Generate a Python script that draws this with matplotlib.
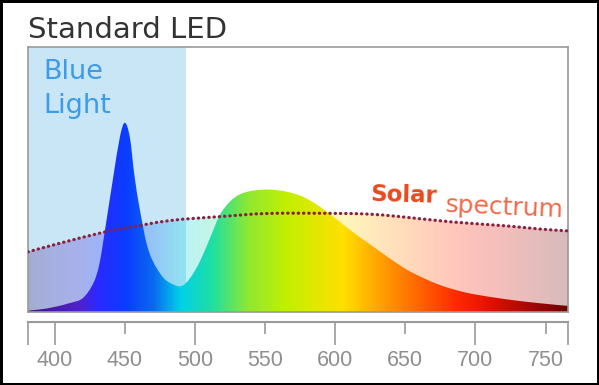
import numpy as np
import matplotlib
matplotlib.use('Agg')
import matplotlib.pyplot as plt
from matplotlib.colors import LinearSegmentedColormap
from matplotlib.path import Path
from matplotlib.patches import PathPatch

# данные спектров (длина волны, нм -> относительная интенсивность)
led_nm = [381, 390, 399, 411, 420, 427.5, 432, 437, 441.8, 446.5, 450, 453.6, 457,
          460.8, 465.5, 470.2, 477.4, 484, 490.5, 496.4, 503.5, 510.7, 517.8, 524.9,
          532, 541.5, 553.4, 565.3, 577, 589, 601, 613, 625, 639, 651, 662.6, 674.5,
          686, 698, 722, 746, 766]
led_val = [0.005, 0.01, 0.018, 0.034, 0.052, 0.108, 0.184, 0.347, 0.51, 0.66, 0.714,
           0.66, 0.51, 0.385, 0.26, 0.19, 0.13, 0.105, 0.098, 0.127, 0.19, 0.278,
           0.366, 0.416, 0.444, 0.458, 0.462, 0.454, 0.435, 0.398, 0.35, 0.3, 0.255,
           0.202, 0.16, 0.129, 0.102, 0.083, 0.068, 0.048, 0.033, 0.023]

solar_nm = [381, 404, 434, 450, 482, 518, 553, 603, 625, 646, 683, 722, 746, 766]
solar_val = [0.227, 0.26, 0.30, 0.316, 0.345, 0.36, 0.372, 0.372, 0.369, 0.36, 0.34,
             0.325, 0.313, 0.306]

blue_band = (381, 494)
x_range = (381, 766)
major_ticks = [400, 500, 600, 700]
minor_ticks = [450, 550, 650, 750]

# цвета спектра по длине волны
spec_nm = [381, 400, 417, 430, 450, 470, 489, 513, 538, 565, 606, 633, 655, 687, 712, 766]
spec_col = ['#3e1270', '#4a1ab0', '#5020d0', '#2a2aff', '#0a3cff', '#0a6af0', '#00d0e8',
            '#20e0a0', '#90e830', '#c0f000', '#ffe000', '#ffa000', '#ff7000', '#ff2a00',
            '#e01000', '#700000']
pos = [(n - x_range[0]) / (x_range[1] - x_range[0]) for n in spec_nm]
cmap = LinearSegmentedColormap.from_list('spec', list(zip(pos, spec_col)))


def smooth_path(xs, ys, close=False):
    # гладкая кривая Безье через точки (Catmull-Rom)
    p = np.column_stack([xs, ys]).astype(float)
    verts = [p[0]]
    codes = [Path.MOVETO]
    n = len(p)
    for i in range(n - 1):
        p0 = p[max(i - 1, 0)]
        p1 = p[i]
        p2 = p[i + 1]
        p3 = p[min(i + 2, n - 1)]
        verts += [p1 + (p2 - p0) / 6, p2 - (p3 - p1) / 6, p2]
        codes += [Path.CURVE4] * 3
    if close:
        verts += [(xs[-1], 0), (xs[0], 0), p[0]]
        codes += [Path.LINETO, Path.LINETO, Path.CLOSEPOLY]
    return Path(verts, codes)


fig = plt.figure(figsize=(5.99, 3.85), dpi=100, edgecolor='black', linewidth=2.5)
ax = fig.add_axes([28 / 599, 1 - 312 / 385, 540 / 599, 265 / 385])
ax.set_xlim(*x_range)
ax.set_ylim(0, 1)

ax.axvspan(*blue_band, color='#c8e6f6', lw=0, zorder=0)

grad = np.linspace(0, 1, 600).reshape(1, -1)

# солнечный спектр - бледная заливка
im1 = ax.imshow(grad, cmap=cmap, extent=[x_range[0], x_range[1], 0, 1],
                aspect='auto', alpha=0.27, zorder=1, interpolation='bilinear')
im1.set_clip_path(smooth_path(solar_nm, solar_val, close=True), transform=ax.transData)

# спектр светодиода
im2 = ax.imshow(grad, cmap=cmap, extent=[x_range[0], x_range[1], 0, 1],
                aspect='auto', zorder=2, interpolation='bilinear')
im2.set_clip_path(smooth_path(led_nm, led_val, close=True), transform=ax.transData)

ax.add_patch(PathPatch(smooth_path(solar_nm, solar_val), fill=False, edgecolor='#8a2040',
                       lw=2.3, linestyle=(0, (0.1, 1.55)), capstyle='round', zorder=3))

ax.set_xticks([])
ax.set_yticks([])
for s in ax.spines.values():
    s.set_color('#9a9a9a')
    s.set_linewidth(1.2)

ax.text(0.028, 0.879, 'Blue', transform=ax.transAxes, fontsize=19.5, color='#3d9be9')
ax.text(0.028, 0.751, 'Light', transform=ax.transAxes, fontsize=19.5, color='#3d9be9')

ax.text(672.5, 0.412, 'Solar', fontsize=16.5, fontweight='bold', color='#e84a1e',
        ha='right', va='baseline', rotation=-1.5, rotation_mode='anchor', zorder=4)
ax.text(678, 0.379, 'spectrum', fontsize=18, color='#ee6a4a',
        ha='left', va='baseline', rotation=-2.5, rotation_mode='anchor', zorder=4)

fig.text(28 / 599, 1 - 38 / 385, 'Standard LED', fontsize=21, color='#333333')

# шкала длин волн
ax2 = fig.add_axes([28 / 599, 1 - 345 / 385, 540 / 599, 23 / 385])
ax2.set_xlim(*x_range)
ax2.set_yticks([])
for k in ['left', 'right', 'bottom']:
    ax2.spines[k].set_visible(False)
ax2.spines['top'].set_color('#9a9a9a')
ax2.spines['top'].set_linewidth(1.5)
ax2.patch.set_alpha(0)
ax2.set_xticks([x_range[0]] + major_ticks + [x_range[1]],
               [''] + [str(t) for t in major_ticks] + [''])
ax2.set_xticks(minor_ticks, [str(t) for t in minor_ticks], minor=True)
ax2.tick_params(axis='x', which='both', top=True, bottom=False, labelbottom=True,
                direction='in', color='#9a9a9a', width=1.2, labelsize=15.5,
                labelcolor='#8f8f8f', pad=3.5)
ax2.tick_params(axis='x', which='major', length=16.5)
ax2.tick_params(axis='x', which='minor', length=8.6)
for lab in ax2.get_xticklabels(minor=False) + ax2.get_xticklabels(minor=True):
    lab.set_fontfamily('Liberation Sans')

fig.savefig('out.png', dpi=100)
